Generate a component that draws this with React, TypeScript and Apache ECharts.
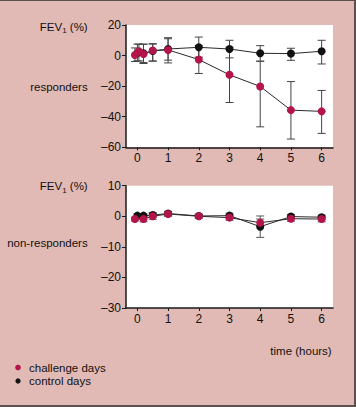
import React, { useEffect, useRef } from "react";
import * as echarts from "echarts";

// ---------- data ----------
const xTicks = [0, 1, 2, 3, 4, 5, 6];

// responders
const respChallengeTimes = [-0.08, 0.05, 0.2, 0.5, 1, 2, 3, 4, 5, 6];
const respChallengeMean = [0.4, 2.8, 1.0, 3.3, 3.7, -2.6, -12.6, -20.2, -35.7, -36.5];
const respChallengeLow = [-3.9, -3.5, -5.2, -3.7, -4.8, -11.7, -30.7, -46.6, -54.6, -50.9];
const respChallengeHigh = [5.0, 7.5, 7.4, 7.8, 11.0, 6.5, 5.5, -3.7, -17.0, -22.8];

const respControlTimes = [0, 0.2, 0.5, 1, 2, 3, 4, 5, 6];
const respControlMean = [1.5, 1.5, 3.0, 4.3, 5.4, 4.3, 1.5, 1.3, 2.8];
const respControlLow = [-3.5, -4.5, -3.5, -3.0, -1.0, -1.5, -3.7, -3.1, -5.5];
const respControlHigh = [7.5, 7.5, 7.5, 11.7, 12.1, 10.0, 6.5, 4.8, 10.0];

// non-responders
const nonChallengeTimes = [-0.08, 0.2, 0.5, 1, 2, 3, 4, 5, 6];
const nonChallengeMean = [-0.9, -0.9, 0.0, 0.75, 0.0, -0.45, -2.1, -0.8, -0.9];
const nonChallengeLow = [-1.5, -1.8, -1.0, 0.0, -0.6, -1.3, -3.3, -1.6, -1.8];
const nonChallengeHigh = [-0.3, 0.0, 1.0, 1.5, 0.6, 0.4, -0.9, 0.0, 0.0];

const nonControlTimes = [0, 0.2, 0.5, 1, 2, 3, 4, 5, 6];
const nonControlMean = [0.2, 0.2, 0.4, 0.9, 0.1, 0.2, -3.4, -0.1, -0.3];
const nonControlLow = [-0.4, -0.4, -0.4, 0.2, -0.5, -0.6, -6.9, -0.8, -1.0];
const nonControlHigh = [0.8, 0.8, 1.2, 1.6, 0.7, 1.0, 0.1, 0.6, 0.4];

// ---------- styling ----------
const BG = "#e2bab5";
const RED = "#b3144a";
const BLACK = "#111111";
const TEXT = "#111111";
const FONT = "'Liberation Sans', Arial, sans-serif";
const NARROW = "'Liberation Sans Narrow', 'Liberation Sans', Arial, sans-serif";

const pts = (t: number[], v: number[]) => t.map((x, i) => [x, v[i]]);
const bars = (t: number[], lo: number[], hi: number[]) => t.map((x, i) => [x, lo[i], hi[i]]);

const errorBar = (idx: number, data: number[][], color: string) => ({
  type: "custom",
  xAxisIndex: idx,
  yAxisIndex: idx,
  z: 1,
  data,
  encode: { x: 0, y: [1, 2] },
  renderItem: (_p: any, api: any) => {
    const x = api.value(0);
    const lo = api.coord([x, api.value(1)]);
    const hi = api.coord([x, api.value(2)]);
    const hw = 4;
    const style = { stroke: color, lineWidth: 1 };
    return {
      type: "group",
      children: [
        { type: "line", shape: { x1: lo[0], y1: lo[1], x2: hi[0], y2: hi[1] }, style },
        { type: "line", shape: { x1: lo[0] - hw, y1: lo[1], x2: lo[0] + hw, y2: lo[1] }, style },
        { type: "line", shape: { x1: hi[0] - hw, y1: hi[1], x2: hi[0] + hw, y2: hi[1] }, style },
      ],
    };
  },
});

const lineSeries = (idx: number, data: number[][], color: string, z: number) => ({
  type: "line",
  xAxisIndex: idx,
  yAxisIndex: idx,
  z,
  data,
  symbol: "circle",
  symbolSize: 8,
  lineStyle: { color: "#2a2a2a", width: 1 },
  itemStyle: { color, borderWidth: 0 },
  emphasis: { disabled: true },
});

const xAxisDef = (idx: number) => ({
  type: "value",
  gridIndex: idx,
  min: -0.37,
  max: 6.37,
  axisLine: { show: true, onZero: false, lineStyle: { color: "#1a1a1a", width: 1.5 } },
  axisTick: { show: true, length: 3, customValues: xTicks, lineStyle: { color: "#1a1a1a" } },
  axisLabel: {
    customValues: xTicks,
    margin: 5,
    fontSize: 12,
    fontFamily: NARROW,
    color: TEXT,
  },
  splitLine: { show: false },
});

const yAxisDef = (idx: number, min: number, max: number, interval: number) => ({
  type: "value",
  gridIndex: idx,
  min,
  max,
  interval,
  axisLine: { show: true, onZero: false, lineStyle: { color: "#1a1a1a", width: 1.5 } },
  axisTick: { show: true, length: 4, lineStyle: { color: "#1a1a1a" } },
  axisLabel: {
    margin: 5,
    fontSize: 12,
    fontFamily: NARROW,
    color: TEXT,
    formatter: (v: number) => String(v).replace("-", "–"),
  },
  splitLine: { show: false },
});

const fevText = (y: number) => ({
  type: "text",
  x: 87.7,
  y,
  style: {
    text: "{a|FEV}{s|1}{a| (%)}",
    align: "right",
    verticalAlign: "middle",
    fill: TEXT,
    rich: {
      a: { fontSize: 11.5, fontFamily: FONT, fill: TEXT, padding: [0, 0, 3, 0] },
      s: { fontSize: 8, fontFamily: FONT, fill: TEXT, padding: [5, 0, 0, 0] },
    },
  },
});

const label = (text: string, x: number, y: number, align: string) => ({
  type: "text",
  x,
  y,
  style: { text, align, verticalAlign: "middle", fontSize: 11.5, fontFamily: FONT, fill: TEXT },
});

export default function App() {
  const ref = useRef<HTMLDivElement>(null);
  useEffect(() => {
    if (!ref.current) return;
    const chart = echarts.init(ref.current, undefined, { renderer: "svg" });
    chart.setOption({
      animation: false,
      backgroundColor: BG,
      grid: [
        { left: 126, top: 25, width: 207, height: 122.3, show: true, backgroundColor: "#fff", borderWidth: 0 },
        { left: 126, top: 185.7, width: 207, height: 122.3, show: true, backgroundColor: "#fff", borderWidth: 0 },
      ],
      xAxis: [xAxisDef(0), xAxisDef(1)],
      yAxis: [yAxisDef(0, -60, 20, 20), yAxisDef(1, -30, 10, 10)],
      series: [
        errorBar(0, bars(respControlTimes, respControlLow, respControlHigh), "#444"),
        errorBar(0, bars(respChallengeTimes, respChallengeLow, respChallengeHigh), "#444"),
        lineSeries(0, pts(respControlTimes, respControlMean), BLACK, 3),
        lineSeries(0, pts(respChallengeTimes, respChallengeMean), RED, 4),
        errorBar(1, bars(nonControlTimes, nonControlLow, nonControlHigh), "#555"),
        errorBar(1, bars(nonChallengeTimes, nonChallengeLow, nonChallengeHigh), "#555"),
        lineSeries(1, pts(nonControlTimes, nonControlMean), BLACK, 3),
        lineSeries(1, pts(nonChallengeTimes, nonChallengeMean), RED, 4),
      ],
      graphic: [
        fevText(28),
        label("responders", 87.7, 87.3, "right"),
        fevText(187.5),
        label("non-responders", 87.7, 243.3, "right"),
        label("time (hours)", 331.7, 351, "right"),
        { type: "circle", shape: { cx: 18, cy: 367.5, r: 2.8 }, style: { fill: RED } },
        label("challenge days", 29, 367.5, "left"),
        { type: "circle", shape: { cx: 18, cy: 381, r: 2.6 }, style: { fill: BLACK } },
        label("control days", 29, 381, "left"),
        { type: "line", shape: { x1: 0, y1: 0.5, x2: 356, y2: 0.5 }, style: { stroke: "#5a5050", lineWidth: 1 } },
        { type: "line", shape: { x1: 355, y1: 0, x2: 355, y2: 407 }, style: { stroke: "#5a5050", lineWidth: 2 } },
        { type: "line", shape: { x1: 0, y1: 406, x2: 356, y2: 406 }, style: { stroke: "#5a5050", lineWidth: 2 } },
      ],
    });
    return () => chart.dispose();
  }, []);
  return (
    <div
      ref={ref}
      style={{ position: "absolute", left: 0, top: 0, width: 356, height: 407 }}
    />
  );
}
